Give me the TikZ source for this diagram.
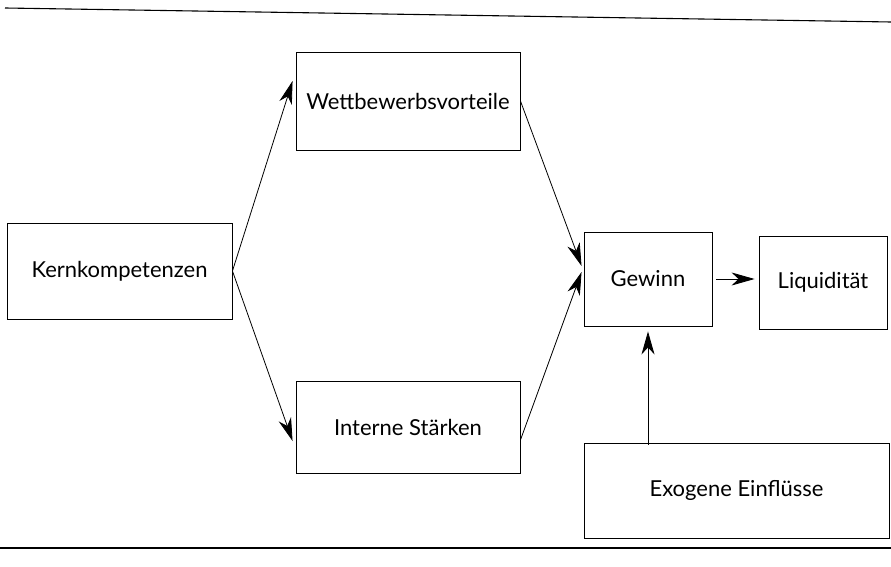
\documentclass[tikz,border=0pt]{standalone}
\usepackage{fontspec}
\setmainfont{Lato}
\usetikzlibrary{arrows.meta}
\begin{document}
\begin{tikzpicture}[x=1pt,y=-1pt,
  box/.style={draw, line width=0.9pt, inner sep=0pt, font=\fontsize{22}{26}\selectfont},
  conn/.style={line width=0.8pt, -{Stealth[length=23pt,width=13pt,inset=7pt]}},
  rule/.style={line width=1.1pt}]
\useasboundingbox (0,0) rectangle (891,567);
\node[box, minimum width=225pt, minimum height=96pt] (kern) at (119.5,271) {Kernkompetenzen};
\node[box, minimum width=224pt, minimum height=98pt] (wett) at (408,101) {Wettbewerbsvorteile};
\node[box, minimum width=224pt, minimum height=92pt] (int) at (408,427) {Interne Stärken};
\node[box, minimum width=128pt, minimum height=94pt] (gew) at (648,279) {Gewinn};
\node[box, minimum width=128pt, minimum height=93pt] (liq) at (823,282.5) {Liquidität};
\node[box, minimum width=305pt, minimum height=95pt] (exo) at (736.5,490.5) {Exogene Einflüsse};
\coordinate (t1) at (5,8);
\coordinate (t2) at (891,22);
\coordinate (b1) at (0,548);
\coordinate (b2) at (891,548);
\draw[rule] (t1) -- (t2);
\draw[rule] (b1) -- (b2);
\draw[conn] (kern.east) -- ([xshift=-3pt,yshift=20pt]wett.west);
\draw[conn] (kern.east) -- ([xshift=-3pt,yshift=-14pt]int.west);
\draw[conn] (wett.east) -- ([xshift=-2pt,yshift=13pt]gew.west);
\draw[conn] ([yshift=-13pt]int.east) -- ([xshift=-2pt,yshift=7pt]gew.west);
\draw[conn] ([xshift=4pt]gew.east) -- ([xshift=-4pt]liq.west |- gew.east);
\draw[conn] ([yshift=-2pt]exo.north -| gew.south) -- ([yshift=-5pt]gew.south);
\end{tikzpicture}
\end{document}
